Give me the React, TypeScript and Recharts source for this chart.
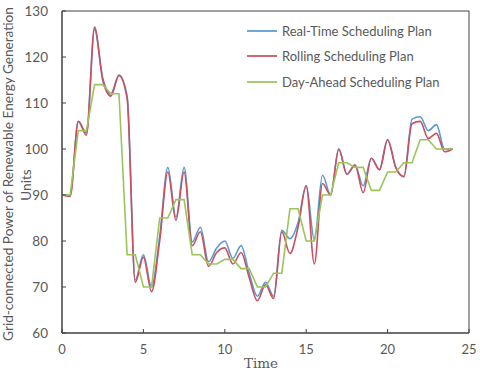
import React from 'react';
import { LineChart, Line, XAxis, YAxis, ReferenceArea, Legend } from 'recharts';

const times = [
  0, 0.5, 1, 1.5, 2, 2.5, 3, 3.5, 4, 4.5, 5, 5.5, 6, 6.5, 7, 7.5, 8, 8.5, 9, 9.5,
  10, 10.5, 11, 11.5, 12, 12.5, 13, 13.5, 14, 14.5, 15, 15.5, 16, 16.5, 17, 17.5,
  18, 18.5, 19, 19.5, 20, 20.5, 21, 21.5, 22, 22.5, 23, 23.5, 24,
];

const realTime = [
  90, 90, 106, 103.5, 126, 115.5, 112, 116, 111.5, 71.5, 77, 70, 81, 96, 85.2, 96,
  79.8, 83, 75.5, 78.5, 80, 76.2, 79, 73, 68, 71, 68, 82.3, 80.5, 84, 92, 80.2,
  94.3, 90, 100, 94.5, 96.5, 92, 98, 95.5, 102, 96, 94, 106.5, 107, 104, 105.3, 100, 100,
];

const rolling = [
  90, 89.7, 106, 103, 126.5, 115, 111.5, 116, 111, 71, 76.5, 69, 80, 95, 84.5, 95,
  79, 82, 74.5, 77.5, 78.5, 75, 77.5, 72, 67, 70.5, 67.5, 82, 77.3, 83, 92, 75,
  92.5, 90, 100, 94.5, 96.5, 90.5, 98, 95.5, 102, 96, 94, 105.5, 106, 102.3, 103.4, 99.4, 100,
];

const dayAhead = [
  90, 90, 104, 104, 114, 114, 112, 112, 77, 77, 70, 70, 85, 85, 89, 89, 77, 77, 75, 75,
  76, 76, 74, 74, 70, 70, 73, 73, 87, 87, 80, 80, 90, 90, 97, 97, 96, 96, 91, 91,
  95, 95, 97, 97, 102, 102, 100, 100, 100,
];

const xTicks = [0, 5, 10, 15, 20, 25];
const yTicks = [60, 70, 80, 90, 100, 110, 120, 130];

const seriesNames = ['Real-Time Scheduling Plan', 'Rolling Scheduling Plan', 'Day-Ahead Scheduling Plan'];
const seriesKeys = ['realTime', 'rolling', 'dayAhead'];
const seriesColors = ['#5B9BD5', '#C9505E', '#9BC45A'];

const xTitle = 'Time';
const yTitleLines = ['Grid-connected Power of Renewable Energy Generation', 'Units'];

const data = times.map((t, i) => ({
  t,
  realTime: realTime[i],
  rolling: rolling[i],
  dayAhead: dayAhead[i],
}));

const TEXT = '#595959';
const AXIS = '#404040';
const GAP = 8; // tickSize(6) + tickMargin(2)

const XTick = (props: any) => {
  const { x, y, payload } = props;
  return (
    <g>
      <line x1={x} x2={x} y1={y - GAP} y2={y - GAP - 4} stroke={AXIS} strokeWidth={1} />
      <text x={x} y={y} dy={13} textAnchor="middle" fill={TEXT} fontSize={13} fontFamily="Lato, sans-serif">
        {payload.value}
      </text>
    </g>
  );
};

const YTick = (props: any) => {
  const { x, y, payload } = props;
  return (
    <g>
      <line x1={x + GAP} x2={x + GAP + 4} y1={y} y2={y} stroke={AXIS} strokeWidth={1} />
      <text x={x - 6} y={y} dy={4.5} textAnchor="end" fill={TEXT} fontSize={13.5} fontFamily="Lato, sans-serif">
        {payload.value}
      </text>
    </g>
  );
};

const XLabel = () => (
  <text x={261} y={367.5} textAnchor="middle" fill={TEXT} fontSize={13.5} fontFamily="'DejaVu Serif', serif">
    {xTitle}
  </text>
);

const YLabel = () => (
  <g>
    <text
      x={13}
      y={174}
      transform="rotate(-90, 13, 174)"
      textAnchor="middle"
      fill={TEXT}
      fontSize={13.6}
      fontFamily="Lato, sans-serif"
    >
      {yTitleLines[0]}
    </text>
    <text
      x={30.5}
      y={185}
      transform="rotate(-90, 30.5, 185)"
      textAnchor="middle"
      fill={TEXT}
      fontSize={13.6}
      fontFamily="Lato, sans-serif"
    >
      {yTitleLines[1]}
    </text>
  </g>
);

const renderLegend = () => (
  <div style={{ display: 'flex', flexDirection: 'column', fontFamily: 'Lato, sans-serif' }}>
    {seriesNames.map((name, i) => (
      <div key={name} style={{ display: 'flex', alignItems: 'center', height: 25.5 }}>
        <svg width={30} height={4} style={{ display: 'block' }}>
          <line x1={0} y1={2} x2={30} y2={2} stroke={seriesColors[i]} strokeWidth={1.75} />
        </svg>
        <span style={{ marginLeft: 5, fontSize: 13, color: TEXT, whiteSpace: 'nowrap' }}>{name}</span>
      </div>
    ))}
  </div>
);

export default function App() {
  return (
    <div style={{ position: 'absolute', left: 0, top: 0, width: 480, height: 383, background: '#fff' }}>
      <LineChart width={480} height={383} data={data} margin={{ top: 11, right: 11, bottom: 0, left: 0 }}>
        <ReferenceArea x1={0} x2={25} y1={60} y2={130} fill="none" stroke={AXIS} strokeWidth={1} ifOverflow="visible" />
        <XAxis
          type="number"
          dataKey="t"
          domain={[0, 25]}
          ticks={xTicks}
          interval={0}
          height={50}
          axisLine={{ stroke: AXIS }}
          tickLine={false}
          tick={<XTick />}
          label={<XLabel />}
        />
        <YAxis
          type="number"
          domain={[60, 130]}
          ticks={yTicks}
          interval={0}
          width={62}
          axisLine={{ stroke: AXIS }}
          tickLine={false}
          tick={<YTick />}
          label={<YLabel />}
        />
        <Legend
          layout="vertical"
          align="center"
          verticalAlign="middle"
          content={renderLegend}
          wrapperStyle={{ left: 247, top: 18, width: 230, height: 80 }}
        />
        {seriesKeys.map((k, i) => (
          <Line
            key={k}
            dataKey={k}
            name={seriesNames[i]}
            type={k === 'dayAhead' ? 'linear' : 'monotone'}
            stroke={seriesColors[i]}
            strokeWidth={1.6}
            dot={false}
            activeDot={false}
            isAnimationActive={false}
          />
        ))}
      </LineChart>
    </div>
  );
}
